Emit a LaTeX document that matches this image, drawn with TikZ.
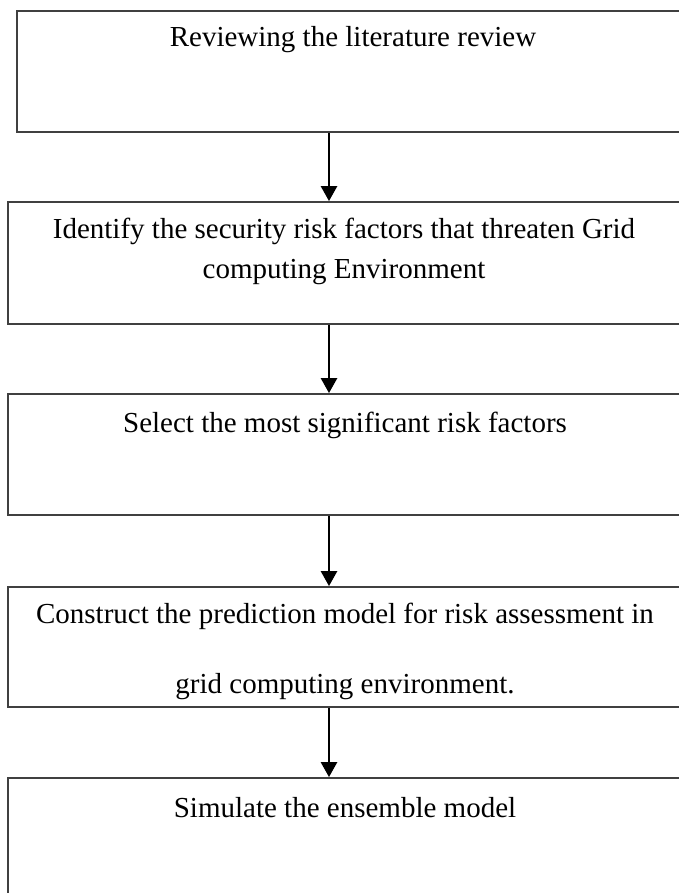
\documentclass[tikz,border=0pt]{standalone}
\usepackage{fontspec}
\setmainfont{Liberation Serif}
\usetikzlibrary{arrows.meta}
\begin{document}
\begin{tikzpicture}[x=1pt,y=-1pt,
  stepbox/.style={draw=black!75,line width=1.8pt,rectangle,inner sep=0pt,fill=none},
  steptext/.style={anchor=base,inner sep=0pt,font=\fontsize{29}{38}\selectfont},
  flow/.style={draw=black,line width=2.6pt,-{Triangle[length=15pt,width=16pt]}}]
\useasboundingbox (0,0) rectangle (678,893);
% boxes
\node[stepbox,minimum width=664pt,minimum height=121pt] (b1) at (349,71.5) {};
\node[stepbox,minimum width=673pt,minimum height=122pt] (b2) at (344.5,263) {};
\node[stepbox,minimum width=673pt,minimum height=121pt] (b3) at (344.5,454.5) {};
\node[stepbox,minimum width=673pt,minimum height=120pt] (b4) at (344.5,647) {};
\node[stepbox,minimum width=673pt,minimum height=127pt] (b5) at (344.5,841.5) {};
% labels
\node[steptext] (t1) at (353,47) {Reviewing the literature review};
\node[steptext] (t2a) at (344,239) {Identify the security risk factors that threaten Grid};
\node[steptext] (t2b) at (344,278) {computing Environment};
\node[steptext] (t3) at (345,432) {Select the most significant risk factors};
\node[steptext] (t4a) at (345,623) {Construct the prediction model for risk assessment in};
\node[steptext] (t4b) at (345,693) {grid computing environment.};
\node[steptext] (t5) at (345,817) {Simulate the ensemble model};
% connectors
\coordinate (ax) at (329,0);
\draw[flow] (b1.south -| ax) -- (b2.north -| ax);
\draw[flow] (b2.south -| ax) -- (b3.north -| ax);
\draw[flow] (b3.south -| ax) -- (b4.north -| ax);
\draw[flow] (b4.south -| ax) -- (b5.north -| ax);
\end{tikzpicture}
\end{document}
